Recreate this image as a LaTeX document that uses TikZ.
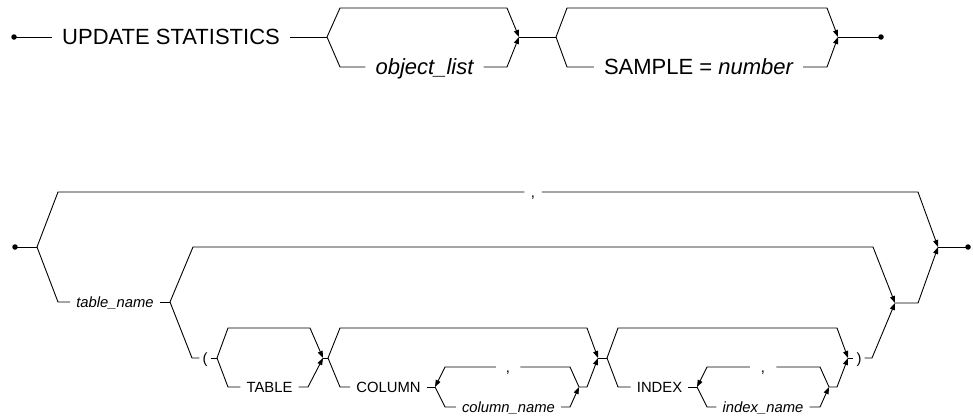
\documentclass[tikz,border=0pt]{standalone}
\usepackage{fontspec}
\setmainfont{Liberation Sans}
\usetikzlibrary{arrows.meta}
\tikzset{
  rail/.style={line width=0.9pt, line join=miter},
  arr/.style={rail, -{Triangle[length=7pt,width=5pt]}},
  bigtxt/.style={font=\fontsize{22}{24}\selectfont, inner ysep=0pt, inner xsep=10pt, text height=15.8pt, text depth=0pt, anchor=center},
  smalltxt/.style={font=\fontsize{14.8}{17}\selectfont, inner ysep=0pt, inner xsep=6pt, text height=10.6pt, text depth=0pt, anchor=center},
  raildot/.style={circle, fill, inner sep=0pt, minimum size=5.5pt},
}
\begin{document}
\begin{tikzpicture}[x=1pt, y=-1pt]
\useasboundingbox (0,0) rectangle (973,415);
% ---------- top diagram ----------
\node[raildot] (s1) at (14,37) {};
\node[bigtxt] (us) at (171,37) {UPDATE STATISTICS};
\coordinate (b1) at (327,37);
\node[bigtxt] (ol) at (424.5,67) {\itshape object\_list};
\coordinate (j1) at (519,37);
\coordinate (b2) at (556,37);
\node[bigtxt] (sm) at (698.5,67) {SAMPLE = \itshape number};
\coordinate (j2) at (838,37);
\node[raildot] (e1) at (881,37) {};

\draw[rail] (s1.center) -- (us.west);
\draw[rail] (us.east) -- (b1);
\draw[arr] (b1) -- (340,8) -- (507,8) -- (j1);
\draw[rail] (b1) -- (340,67) -- (ol.west);
\draw[arr] (ol.east) -- (507,67) -- (j1);
\draw[rail] (j1) -- (b2);
\draw[arr] (b2) -- (567,8) -- (827,8) -- (j2);
\draw[rail] (b2) -- (567,67) -- (sm.west);
\draw[arr] (sm.east) -- (827,67) -- (j2);
\draw[rail] (j2) -- (e1.center);

% ---------- bottom diagram ----------
\node[raildot] (s2) at (15,247) {};
\coordinate (B0) at (37,247);
\node[smalltxt, inner xsep=6.5pt] (cm1) at (533,192) {,};
\coordinate (J0) at (938,247);
\node[raildot] (e2) at (968,247) {};
\node[smalltxt] (tn) at (115,302) {\itshape table\_name};
\coordinate (B1) at (170,302);
\coordinate (J1) at (895,303);
\node[smalltxt, inner xsep=3pt] (lp) at (205,358) {(};
\coordinate (B2) at (217,358);
\coordinate (J2) at (323,358);
\node[smalltxt] (tab) at (269.5,387) {TABLE};
\coordinate (B3) at (328,358);
\coordinate (J3) at (598,358);
\node[smalltxt] (col) at (388.5,387) {COLUMN};
\coordinate (B4) at (435,387);
\coordinate (J4) at (579,387);
\node[smalltxt, inner xsep=10pt] (cm2) at (508,367) {,};
\node[smalltxt] (cn) at (508.5,407) {\itshape column\_name};
\coordinate (B5) at (607,358);
\coordinate (J5) at (848,358);
\node[smalltxt] (idx) at (659.5,387) {INDEX};
\coordinate (B6) at (697,387);
\coordinate (J6) at (829,387);
\node[smalltxt, inner xsep=11pt] (cm3) at (763,367) {,};
\node[smalltxt] (inm) at (763,407) {\itshape index\_name};
\node[smalltxt, inner xsep=3pt] (rp) at (859,358) {)};

\draw[rail] (s2.center) -- (B0);
\draw[rail] (B0) -- (58,192) -- (cm1.west);
\draw[arr] (cm1.east) -- (918,192) -- (J0);
\draw[rail] (B0) -- (58,302) -- (tn.west);
\draw[rail] (tn.east) -- (B1);
\draw[arr] (B1) -- (193,247) -- (873,247) -- (J1);
\draw[rail] (B1) -- (192,358) -- (lp.west);
\draw[rail] (lp.east) -- (B2);
\draw[arr] (B2) -- (228,328) -- (310,328) -- (J2);
\draw[rail] (B2) -- (228,387) -- (tab.west);
\draw[arr] (tab.east) -- (308,387) -- (J2);
\draw[rail] (J2) -- (B3);
\draw[arr] (B3) -- (340,328) -- (587,328) -- (J3);
\draw[rail] (B3) -- (340,387) -- (col.west);
\draw[rail] (col.east) -- (B4);
\draw[rail] (J4) -- (570,367) -- (cm2.east);
\draw[arr] (cm2.west) -- (445,367) -- (B4);
\draw[rail] (B4) -- (445,407) -- (cn.west);
\draw[arr] (cn.east) -- (570,407) -- (J4);
\draw[arr] (J4) -- (587,387) -- (J3);
\draw[rail] (J3) -- (B5);
\draw[arr] (B5) -- (618,328) -- (837,328) -- (J5);
\draw[rail] (B5) -- (618,387) -- (idx.west);
\draw[rail] (idx.east) -- (B6);
\draw[rail] (J6) -- (820,367) -- (cm3.east);
\draw[arr] (cm3.west) -- (707,367) -- (B6);
\draw[rail] (B6) -- (707,407) -- (inm.west);
\draw[arr] (inm.east) -- (820,407) -- (J6);
\draw[arr] (J6) -- (837,387) -- (J5);
\draw[rail] (J5) -- (rp.west);
\draw[arr] (rp.east) -- (872,358) -- (J1);
\draw[arr] (J1) -- (918,303) -- (J0);
\draw[rail] (J0) -- (e2.center);
\end{tikzpicture}
\end{document}
